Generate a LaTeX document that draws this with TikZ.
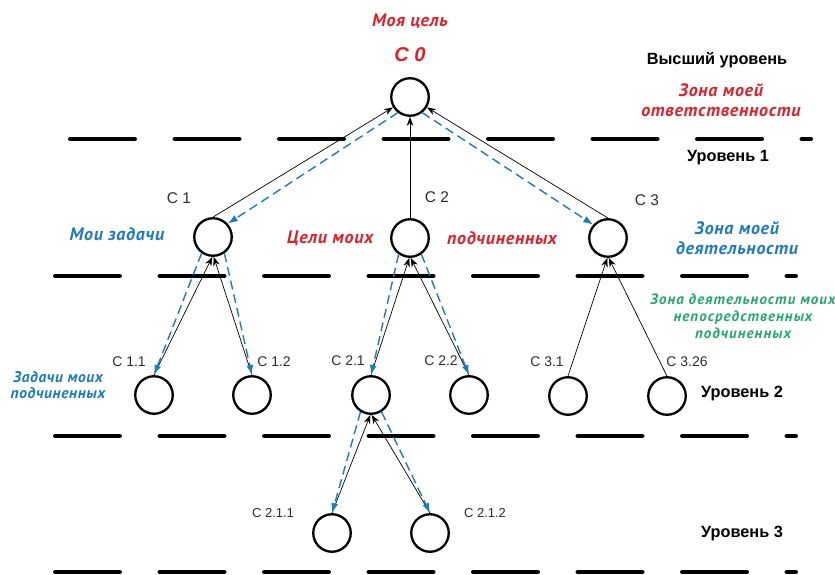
\documentclass[tikz,border=0pt]{standalone}
\usepackage{fontspec}
\setmainfont{Liberation Sans}
\newfontfamily\cursivefont[LetterSpace=4]{PT Sans}
\usetikzlibrary{arrows.meta}
\definecolor{goalred}{RGB}{222,32,42}
\definecolor{taskblue}{RGB}{30,122,192}
\definecolor{zonegreen}{RGB}{38,168,108}
\definecolor{labelgray}{RGB}{45,45,45}

\begin{document}
\begin{tikzpicture}[x=1pt,y=-1pt,
  goal/.style={circle, draw, line width=2.3pt, minimum size=37.5pt, inner sep=0pt, fill=white},
  levelline/.style={line width=4.5pt, line cap=round, dash pattern=on 64.5pt off 40pt},
  upedge/.style={-{Stealth[length=9pt,width=6.5pt]}, line width=0.7pt},
  downedge/.style={taskblue, line width=1.4pt, dash pattern=on 9pt off 5pt,
                   -{Latex[length=10pt,width=7pt]}},
  idlabel/.style={text=labelgray, font=\fontsize{14}{16}\selectfont, inner sep=0pt},
  redtxt/.style={text=goalred, font=\cursivefont\fontsize{18}{20}\selectfont\bfseries\itshape, align=center, inner sep=0pt},
  bluetxt/.style={text=taskblue, font=\cursivefont\fontsize{18}{20}\selectfont\bfseries\itshape, align=center, inner sep=0pt},
  greentxt/.style={text=zonegreen, font=\cursivefont\fontsize{15}{17}\selectfont\bfseries\itshape\addfontfeature{LetterSpace=7}, align=center, inner sep=0pt},
  leveltxt/.style={text=black, font=\fontsize{16.3}{18}\selectfont\bfseries, inner sep=0pt}
]
\useasboundingbox (0,0) rectangle (835,575);

% level separators
\draw[levelline] (70.25,139) -- (810.75,139);
\draw[levelline] (55.25,276) -- (795.75,276);
\draw[levelline] (55.25,436) -- (795.75,436);
\draw[levelline] (55.25,572) -- (795.75,572);

% goals
\node[goal] (c0) at (410,97) {};
\node[goal] (c1) at (213,237) {};
\node[goal] (c2) at (410,238) {};
\node[goal] (c3) at (608,238) {};
\node[goal] (c11) at (154,395) {};
\node[goal] (c12) at (252,395) {};
\node[goal] (c21) at (371,395) {};
\node[goal] (c22) at (469,395) {};
\node[goal] (c31) at (568,396) {};
\node[goal] (c326) at (667,396) {};
\node[goal] (c211) at (332,533) {};
\node[goal] (c212) at (430,533) {};

% contributions upward
\draw[upedge] (c1.north) -- (c0);
\draw[upedge] (c2.north) -- (c0.south);
\draw[upedge] (c3.north) -- (c0);
\draw[upedge] (c11.north) -- (c1.268);
\draw[upedge] (c12.north) -- (c1.272);
\draw[upedge] (c21.north) -- (c2.268);
\draw[upedge] (c22.north) -- (c2.272);
\draw[upedge] (c31.north) -- (c3.268);
\draw[upedge] (c326.north) -- (c3.272);
\draw[upedge] (c211.north) -- (c21.268);
\draw[upedge] (c212.north) -- (c21.272);

% delegated tasks downward
\draw[downedge] (c0.232) -- (c1.42);
\draw[downedge] (c0.308) -- (c3.138);
\draw[downedge] (c1.235) -- (c11.north);
\draw[downedge] (c1.305) -- (c12.north);
\draw[downedge] (c2.235) -- (c21.north);
\draw[downedge] (c2.305) -- (c22.north);
\draw[downedge] (c21.238) -- (c211.north);
\draw[downedge] (c21.302) -- (c212.north);

% goal identifiers
\node[redtxt] (mygoal) at (410,21) {Моя цель};
\node[redtxt, font=\fontsize{20}{22}\selectfont\bfseries\itshape] (id0) at (410,55) {C 0};
\node[idlabel, font=\fontsize{15.5}{17}\selectfont] (id1) at (179,198) {C 1};
\node[idlabel, font=\fontsize{15.5}{17}\selectfont] (id2) at (437,197) {C 2};
\node[idlabel, font=\fontsize{15.5}{17}\selectfont] (id3) at (647,200) {C 3};
\node[idlabel] (id11) at (129,362) {C 1.1};
\node[idlabel] (id12) at (274,362) {C 1.2};
\node[idlabel] (id21) at (348,361) {C 2.1};
\node[idlabel] (id22) at (441,361) {C 2.2};
\node[idlabel] (id31) at (547,362) {C 3.1};
\node[idlabel] (id326) at (687,362) {C 3.26};
\node[idlabel, font=\fontsize{13}{15}\selectfont] (id211) at (273,513) {C 2.1.1};
\node[idlabel, font=\fontsize{13}{15}\selectfont] (id212) at (485,513) {C 2.1.2};

% zone captions
\node[redtxt] (resp) at (721,100) {Зона моей\\ответственности};
\node[bluetxt] (mytasks) at (117,234) {Мои задачи};
\node[redtxt] (subgoalsA) at (330,238) {Цели моих};
\node[redtxt] (subgoalsB) at (502,238) {подчиненных};
\node[bluetxt] (activity) at (737,238) {Зона моей\\деятельности};
\node[greentxt] (subactivity) at (743,316) {Зона деятельности моих\\непосредственных\\подчиненных};
\node[bluetxt, font=\cursivefont\fontsize{15.5}{16}\selectfont\bfseries\itshape] (subtasks) at (58,385) {Задачи моих\\подчиненных};

% level names
\node[leveltxt] (top) at (717,60) {Высший уровень};
\node[leveltxt] (lvl1) at (728,158) {Уровень 1};
\node[leveltxt] (lvl2) at (742,393) {Уровень 2};
\node[leveltxt] (lvl3) at (742,533) {Уровень 3};
\end{tikzpicture}
\end{document}
